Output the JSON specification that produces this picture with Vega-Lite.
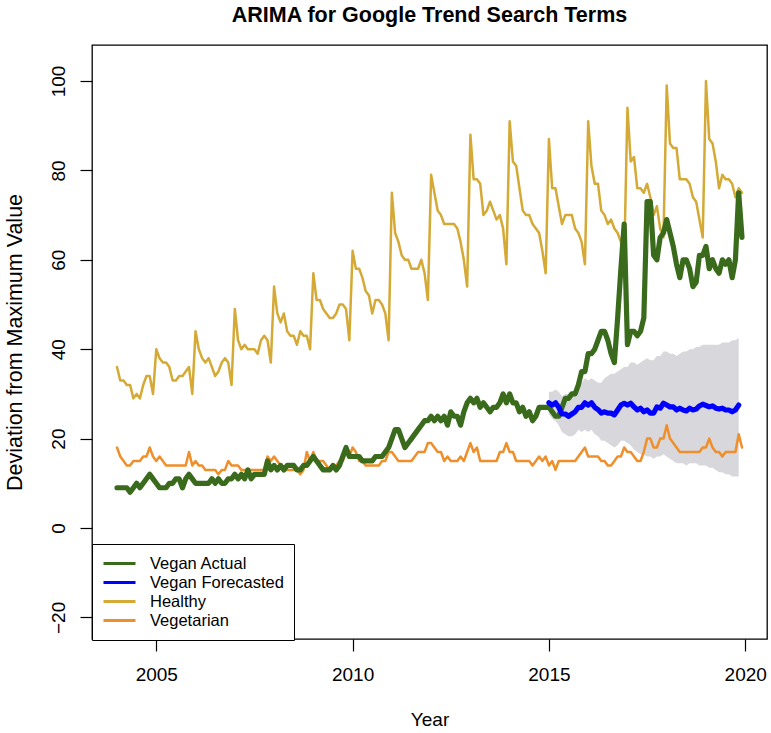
{
"$schema": "https://vega.github.io/schema/vega-lite/v6.json",
"width": 675, "height": 594,
"autosize": {"type": "none"},
"padding": {"left": 92, "top": 45, "right": 4, "bottom": 94},
"background": "white",
"title": {"text": "ARIMA for Google Trend Search Terms", "fontSize": 21.5, "font": "Liberation Sans", "fontWeight": "bold", "anchor": "middle", "frame": "group", "offset": 19, "color": "black"},
"config": {
  "view": {"stroke": "black", "strokeWidth": 1.3},
  "font": "Liberation Sans",
  "axis": {"grid": false, "domain": false, "tickColor": "black", "tickWidth": 1.2, "tickSize": 12, "labelColor": "black", "labelFontSize": 19, "titleColor": "black", "titleFontSize": 19, "titleFontWeight": "normal", "labelFont": "Liberation Sans", "titleFont": "Liberation Sans"},
  "legend": {"labelFont": "Liberation Sans"}
},
"datasets": {
"main": [
{"t":2004,"h":36,"v":18,"g":9},{"t":2004.083,"h":33,"v":16,"g":9},{"t":2004.167,"h":33,"v":15,"g":9},{"t":2004.25,"h":32,"v":14,"g":9},{"t":2004.333,"h":32,"v":14,"g":8},{"t":2004.417,"h":29,"v":15,"g":9},{"t":2004.5,"h":30,"v":15,"g":10},{"t":2004.583,"h":29,"v":15,"g":9},{"t":2004.667,"h":32,"v":16,"g":10},{"t":2004.75,"h":34,"v":16,"g":11},{"t":2004.833,"h":34,"v":18,"g":12},{"t":2004.917,"h":30,"v":16,"g":11},
{"t":2005,"h":40,"v":15,"g":10},{"t":2005.083,"h":38,"v":16,"g":9},{"t":2005.167,"h":37,"v":15,"g":9},{"t":2005.25,"h":37,"v":14,"g":9},{"t":2005.333,"h":36,"v":14,"g":10},{"t":2005.417,"h":33,"v":14,"g":10},{"t":2005.5,"h":33,"v":14,"g":11},{"t":2005.583,"h":34,"v":14,"g":11},{"t":2005.667,"h":34,"v":14,"g":9},{"t":2005.75,"h":35,"v":14,"g":11},{"t":2005.833,"h":36,"v":17,"g":12},{"t":2005.917,"h":30,"v":14,"g":11},
{"t":2006,"h":44,"v":15,"g":10},{"t":2006.083,"h":40,"v":14,"g":10},{"t":2006.167,"h":38,"v":14,"g":10},{"t":2006.25,"h":37,"v":13,"g":10},{"t":2006.333,"h":38,"v":13,"g":10},{"t":2006.417,"h":36,"v":13,"g":11},{"t":2006.5,"h":34,"v":13,"g":10},{"t":2006.583,"h":35,"v":12,"g":11},{"t":2006.667,"h":37,"v":13,"g":10},{"t":2006.75,"h":38,"v":13,"g":10},{"t":2006.833,"h":37,"v":15,"g":11},{"t":2006.917,"h":32,"v":14,"g":11},
{"t":2007,"h":49,"v":14,"g":12},{"t":2007.083,"h":42,"v":14,"g":11},{"t":2007.167,"h":40,"v":13,"g":12},{"t":2007.25,"h":41,"v":13,"g":11},{"t":2007.333,"h":40,"v":13,"g":13},{"t":2007.417,"h":40,"v":13,"g":11},{"t":2007.5,"h":40,"v":13,"g":12},{"t":2007.583,"h":39,"v":13,"g":12},{"t":2007.667,"h":42,"v":13,"g":12},{"t":2007.75,"h":43,"v":13,"g":12},{"t":2007.833,"h":42,"v":16,"g":15},{"t":2007.917,"h":37,"v":15,"g":13},
{"t":2008,"h":54,"v":16,"g":14},{"t":2008.083,"h":48,"v":15,"g":13},{"t":2008.167,"h":46,"v":14,"g":14},{"t":2008.25,"h":48,"v":13,"g":13},{"t":2008.333,"h":44,"v":13,"g":14},{"t":2008.417,"h":43,"v":13,"g":14},{"t":2008.5,"h":43,"v":13,"g":14},{"t":2008.583,"h":41,"v":13,"g":13},{"t":2008.667,"h":44,"v":12,"g":13},{"t":2008.75,"h":43,"v":13,"g":14},{"t":2008.833,"h":43,"v":17,"g":14},{"t":2008.917,"h":40,"v":15,"g":15},
{"t":2009,"h":57,"v":17,"g":16},{"t":2009.083,"h":51,"v":15,"g":15},{"t":2009.167,"h":51,"v":15,"g":14},{"t":2009.25,"h":49,"v":15,"g":13},{"t":2009.333,"h":48,"v":14,"g":13},{"t":2009.417,"h":47,"v":13,"g":13},{"t":2009.5,"h":47,"v":14,"g":14},{"t":2009.583,"h":48,"v":14,"g":13},{"t":2009.667,"h":50,"v":15,"g":14},{"t":2009.75,"h":50,"v":15,"g":16},{"t":2009.833,"h":49,"v":17,"g":18},{"t":2009.917,"h":42,"v":16,"g":16},
{"t":2010,"h":62,"v":18,"g":16},{"t":2010.083,"h":58,"v":17,"g":16},{"t":2010.167,"h":58,"v":15,"g":16},{"t":2010.25,"h":56,"v":15,"g":15},{"t":2010.333,"h":53,"v":14,"g":15},{"t":2010.417,"h":52,"v":14,"g":15},{"t":2010.5,"h":48,"v":14,"g":15},{"t":2010.583,"h":51,"v":14,"g":16},{"t":2010.667,"h":51,"v":14,"g":16},{"t":2010.75,"h":50,"v":15,"g":16},{"t":2010.833,"h":48,"v":15,"g":17},{"t":2010.917,"h":42,"v":17,"g":18},
{"t":2011,"h":75,"v":17,"g":20},{"t":2011.083,"h":66,"v":16,"g":22},{"t":2011.167,"h":64,"v":15,"g":22},{"t":2011.25,"h":61,"v":15,"g":20},{"t":2011.333,"h":60,"v":15,"g":18},{"t":2011.417,"h":60,"v":15,"g":19},{"t":2011.5,"h":58,"v":15,"g":20},{"t":2011.583,"h":58,"v":16,"g":21},{"t":2011.667,"h":58,"v":17,"g":22},{"t":2011.75,"h":60,"v":17,"g":23},{"t":2011.833,"h":57,"v":17,"g":24},{"t":2011.917,"h":51,"v":19,"g":24},
{"t":2012,"h":79,"v":19,"g":25},{"t":2012.083,"h":75,"v":18,"g":24},{"t":2012.167,"h":71,"v":17,"g":25},{"t":2012.25,"h":70,"v":17,"g":24},{"t":2012.333,"h":68,"v":15,"g":25},{"t":2012.417,"h":68,"v":16,"g":23},{"t":2012.5,"h":68,"v":15,"g":26},{"t":2012.583,"h":68,"v":15,"g":25},{"t":2012.667,"h":67,"v":15,"g":25},{"t":2012.75,"h":64,"v":16,"g":23},{"t":2012.833,"h":60,"v":15,"g":26},{"t":2012.917,"h":54,"v":17,"g":28},
{"t":2013,"h":88,"v":19,"g":29},{"t":2013.083,"h":78,"v":17,"g":28},{"t":2013.167,"h":78,"v":18,"g":29},{"t":2013.25,"h":77,"v":15,"g":27},{"t":2013.333,"h":70,"v":15,"g":28},{"t":2013.417,"h":71,"v":15,"g":27},{"t":2013.5,"h":73,"v":15,"g":26},{"t":2013.583,"h":71,"v":15,"g":27},{"t":2013.667,"h":69,"v":15,"g":27},{"t":2013.75,"h":70,"v":17,"g":28},{"t":2013.833,"h":67,"v":17,"g":30},{"t":2013.917,"h":59,"v":19,"g":28},
{"t":2014,"h":91,"v":17,"g":30},{"t":2014.083,"h":82,"v":17,"g":28},{"t":2014.167,"h":81,"v":15,"g":28},{"t":2014.25,"h":76,"v":15,"g":26},{"t":2014.333,"h":71,"v":15,"g":27},{"t":2014.417,"h":70,"v":15,"g":25},{"t":2014.5,"h":70,"v":15,"g":26},{"t":2014.583,"h":68,"v":14,"g":24},{"t":2014.667,"h":67,"v":15,"g":25},{"t":2014.75,"h":66,"v":16,"g":27},{"t":2014.833,"h":62,"v":15,"g":27},{"t":2014.917,"h":57,"v":16,"g":27},
{"t":2015,"h":87,"v":14,"g":27},{"t":2015.083,"h":76,"v":15,"g":26},{"t":2015.167,"h":76,"v":13,"g":25},{"t":2015.25,"h":72,"v":15,"g":25},{"t":2015.333,"h":68,"v":15,"g":27},{"t":2015.417,"h":70,"v":15,"g":29},{"t":2015.5,"h":70,"v":15,"g":29},{"t":2015.583,"h":70,"v":15,"g":30},{"t":2015.667,"h":67,"v":15,"g":30},{"t":2015.75,"h":66,"v":16,"g":32},{"t":2015.833,"h":64,"v":17,"g":35},{"t":2015.917,"h":59,"v":18,"g":35},
{"t":2016,"h":91,"v":16,"g":39},{"t":2016.083,"h":81,"v":16,"g":39},{"t":2016.167,"h":77,"v":16,"g":40},{"t":2016.25,"h":77,"v":16,"g":42},{"t":2016.333,"h":71,"v":15,"g":44},{"t":2016.417,"h":70,"v":15,"g":44},{"t":2016.5,"h":68,"v":14,"g":42},{"t":2016.583,"h":69,"v":14,"g":39},{"t":2016.667,"h":67,"v":15,"g":37},{"t":2016.75,"h":66,"v":16,"g":47},{"t":2016.833,"h":64,"v":16,"g":58},{"t":2016.917,"h":60,"v":18,"g":68},
{"t":2017,"h":94,"v":17,"g":41},{"t":2017.083,"h":82,"v":17,"g":44},{"t":2017.167,"h":83,"v":16,"g":44},{"t":2017.25,"h":76,"v":15,"g":43},{"t":2017.333,"h":76,"v":15,"g":44},{"t":2017.417,"h":75,"v":17,"g":47},{"t":2017.5,"h":77,"v":20,"g":73},{"t":2017.583,"h":74,"v":20,"g":73},{"t":2017.667,"h":70,"v":18,"g":61},{"t":2017.75,"h":72,"v":18,"g":60},{"t":2017.833,"h":67,"v":20,"g":65},{"t":2017.917,"h":65,"v":20,"g":66},
{"t":2018,"h":99,"v":23,"g":69},{"t":2018.083,"h":86,"v":20,"g":66},{"t":2018.167,"h":85,"v":19,"g":63},{"t":2018.25,"h":85,"v":18,"g":59},{"t":2018.333,"h":78,"v":17,"g":56},{"t":2018.417,"h":78,"v":17,"g":60},{"t":2018.5,"h":78,"v":17,"g":60},{"t":2018.583,"h":77,"v":17,"g":58},{"t":2018.667,"h":74,"v":17,"g":54},{"t":2018.75,"h":73,"v":17,"g":55},{"t":2018.833,"h":69,"v":17,"g":61},{"t":2018.917,"h":65,"v":18,"g":61},
{"t":2019,"h":100,"v":18,"g":63},{"t":2019.083,"h":87,"v":20,"g":58},{"t":2019.167,"h":86,"v":18,"g":60},{"t":2019.25,"h":82,"v":17,"g":58},{"t":2019.333,"h":76,"v":17,"g":57},{"t":2019.417,"h":79,"v":16,"g":60},{"t":2019.5,"h":78,"v":17,"g":59},{"t":2019.583,"h":78,"v":17,"g":60},{"t":2019.667,"h":77,"v":17,"g":56},{"t":2019.75,"h":74,"v":17,"g":60},{"t":2019.833,"h":76,"v":21,"g":75},{"t":2019.917,"h":75,"v":18,"g":65}
],
"fc": [
{"t":2015,"f":28,"lo":25.5,"hi":30.5},{"t":2015.083,"f":27.5,"lo":24.5,"hi":30.5},{"t":2015.167,"f":28,"lo":24,"hi":31},{"t":2015.25,"f":27,"lo":23,"hi":30.5},{"t":2015.333,"f":25.5,"lo":21.5,"hi":29.5},{"t":2015.417,"f":25.5,"lo":21,"hi":30},{"t":2015.5,"f":25,"lo":20.5,"hi":30},{"t":2015.583,"f":25.5,"lo":20.5,"hi":30.5},{"t":2015.667,"f":26,"lo":21,"hi":31},{"t":2015.75,"f":27,"lo":22,"hi":32},{"t":2015.833,"f":27,"lo":21.5,"hi":32.5},{"t":2015.917,"f":28,"lo":22,"hi":33.5},
{"t":2016,"f":27.5,"lo":21.5,"hi":33},{"t":2016.083,"f":28,"lo":22,"hi":33.5},{"t":2016.167,"f":27,"lo":21,"hi":33},{"t":2016.25,"f":26.5,"lo":20.5,"hi":32.5},{"t":2016.333,"f":25.7,"lo":19.5,"hi":32.5},{"t":2016.417,"f":26,"lo":19.5,"hi":33.5},{"t":2016.5,"f":25.7,"lo":19,"hi":34},{"t":2016.583,"f":25.7,"lo":18.5,"hi":34.5},{"t":2016.667,"f":25.3,"lo":18,"hi":34.5},{"t":2016.75,"f":26.4,"lo":18.5,"hi":35},{"t":2016.833,"f":27.5,"lo":19.5,"hi":35.5},{"t":2016.917,"f":27.9,"lo":19.5,"hi":36},
{"t":2017,"f":27.5,"lo":19,"hi":36},{"t":2017.083,"f":27.9,"lo":18.5,"hi":37},{"t":2017.167,"f":27.1,"lo":17.5,"hi":37},{"t":2017.25,"f":26.4,"lo":17,"hi":36.5},{"t":2017.333,"f":26.8,"lo":16.5,"hi":37},{"t":2017.417,"f":26,"lo":16.5,"hi":37.5},{"t":2017.5,"f":26.4,"lo":16,"hi":38},{"t":2017.583,"f":25.7,"lo":16,"hi":37.5},{"t":2017.667,"f":25.7,"lo":15.5,"hi":37.5},{"t":2017.75,"f":27.1,"lo":16,"hi":38.5},{"t":2017.833,"f":26.8,"lo":16,"hi":38.5},{"t":2017.917,"f":27.9,"lo":16.5,"hi":39.5},
{"t":2018,"f":27.5,"lo":16,"hi":39.5},{"t":2018.083,"f":27.1,"lo":15.5,"hi":39},{"t":2018.167,"f":27.1,"lo":15,"hi":39},{"t":2018.25,"f":26.4,"lo":14.5,"hi":38.5},{"t":2018.333,"f":26.8,"lo":14.5,"hi":39},{"t":2018.417,"f":26.4,"lo":14.5,"hi":39.5},{"t":2018.5,"f":26.2,"lo":14,"hi":39.5},{"t":2018.583,"f":26.8,"lo":14.5,"hi":40},{"t":2018.667,"f":26.4,"lo":14.5,"hi":40},{"t":2018.75,"f":26.6,"lo":14.5,"hi":40.5},{"t":2018.833,"f":27.3,"lo":14,"hi":40.5},{"t":2018.917,"f":27.7,"lo":14,"hi":41},
{"t":2019,"f":27.4,"lo":14,"hi":41},{"t":2019.083,"f":27.1,"lo":13.5,"hi":41},{"t":2019.167,"f":27.3,"lo":13.5,"hi":41},{"t":2019.25,"f":26.8,"lo":13,"hi":41},{"t":2019.333,"f":26.6,"lo":12.5,"hi":41},{"t":2019.417,"f":26.8,"lo":12.5,"hi":41.5},{"t":2019.5,"f":26.4,"lo":12,"hi":41.5},{"t":2019.583,"f":26.4,"lo":12,"hi":41.5},{"t":2019.667,"f":26,"lo":11.5,"hi":42},{"t":2019.75,"f":26.4,"lo":11.5,"hi":42},{"t":2019.833,"f":27.5,"lo":11.5,"hi":42.5}
]
},
"encoding": {
  "x": {"field": "t", "type": "quantitative",
        "scale": {"domain": [2003.363, 2020.554], "nice": false, "zero": false},
        "axis": {"values": [2005, 2010, 2015, 2020], "format": "d", "title": "Year", "labelPadding": 14, "titlePadding": 26, "labelFlush": false}}
},
"layer": [
  {"data": {"name": "fc"}, "mark": {"type": "area", "color": "#d7d7dc", "opacity": 1},
   "encoding": {
     "y": {"field": "lo", "type": "quantitative",
           "scale": {"domain": [-24.83, 108.05], "nice": false, "zero": false},
           "axis": {"values": [-20, 0, 20, 40, 60, 80, 100], "format": "d", "title": "Deviation from Maximum Value", "titleFontSize": 21.5, "labelAngle": 270, "labelAlign": "center", "labelBaseline": "bottom", "labelPadding": 12, "titlePadding": 23}},
     "y2": {"field": "hi"}}},
  {"data": {"name": "main"}, "mark": {"type": "line", "strokeWidth": 2.5, "strokeJoin": "round", "strokeCap": "round"},
   "encoding": {
     "y": {"field": "h", "type": "quantitative"},
     "color": {"datum": "Healthy", "type": "nominal",
       "scale": {"domain": ["Vegan Actual", "Vegan Forecasted", "Healthy", "Vegetarian"], "range": ["#3a6a1c", "#0000ff", "#d4a936", "#ef8f2b"]},
       "legend": {"orient": "none", "legendX": 0, "legendY": 499, "title": null, "symbolType": "stroke", "symbolSize": 1024, "symbolStrokeWidth": 3, "clipHeight": 19, "rowPadding": 0, "labelFontSize": 16.5, "labelOffset": 13, "padding": 10, "strokeColor": "black", "fillColor": "white", "labelColor": "black", "labelLimit": 300, "cornerRadius": 0}}}},
  {"data": {"name": "main"}, "mark": {"type": "line", "strokeWidth": 2.5, "strokeJoin": "round", "strokeCap": "round"},
   "encoding": {
     "y": {"field": "v", "type": "quantitative"},
     "color": {"datum": "Vegetarian", "type": "nominal"}}},
  {"data": {"name": "main"}, "mark": {"type": "line", "strokeWidth": 5.2, "strokeJoin": "round", "strokeCap": "round"},
   "encoding": {
     "y": {"field": "g", "type": "quantitative"},
     "color": {"datum": "Vegan Actual", "type": "nominal"}}},
  {"data": {"name": "fc"}, "mark": {"type": "line", "strokeWidth": 5.2, "strokeJoin": "round", "strokeCap": "round"},
   "encoding": {
     "y": {"field": "f", "type": "quantitative"},
     "color": {"datum": "Vegan Forecasted", "type": "nominal"}}}
]
}
